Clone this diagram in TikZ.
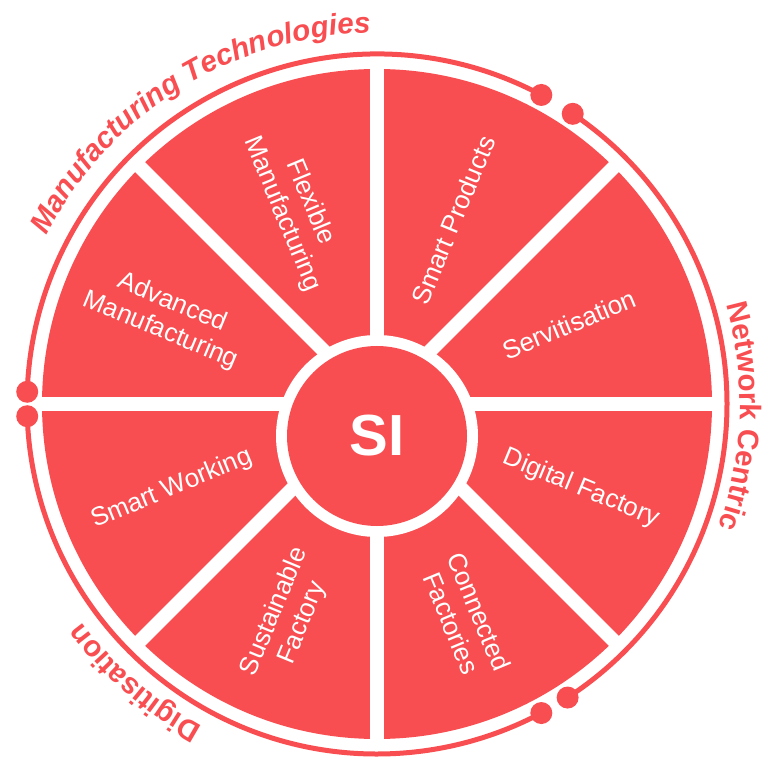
\documentclass[tikz,border=0pt]{standalone}
\usepackage{fontspec}
\setmainfont{Liberation Sans}
\usepackage{tikz}
\usetikzlibrary{decorations.text}

\definecolor{wheelred}{RGB}{249,78,81}
\newcommand{\arcfont}{\bfseries\fontsize{29.5}{31}\selectfont}

\tikzset{
    spoke/.style={draw=white, line width=14pt},
    ringarc/.style={draw=wheelred, line width=5pt},
    ringdot/.style={fill=wheelred},
    sectorlabel/.style={text=white, font=\fontsize{26}{30}\selectfont, align=center, inner sep=0pt},
    arclabel/.style 2 args={decorate, decoration={text along path, text align=center, text color=wheelred, text={|\arcfont#1|#2}}}
}

\begin{document}
\begin{tikzpicture}[x=1pt, y=1pt]
    \useasboundingbox (0,0) rectangle (767,758);
    \coordinate (hub) at (377,354);
    \coordinate (core) at (377,322);

    % wheel with eight sectors
    \fill [wheelred] (hub) circle (335);
    \foreach \a in {0,45,...,315}
        \draw [spoke] (hub) -- ++(\a:340);
    \fill [white] (core) circle (101);
    \node [circle, fill=wheelred, minimum size=180pt, inner sep=0pt, text=white, font=\bfseries\fontsize{58}{60}\selectfont] (si) at (core) {SI};

    \foreach \a/\r/\rot/\n/\t in {
        22.5/208/22.5/serv/Servitisation,
        67.5/199/67.5/prod/Smart Products,
        112.5/212/-67.5/flex/Flexible\\Manufacturing,
        157.5/228/-22.5/adv/Advanced\\Manufacturing,
        202.5/222/22.5/work/Smart Working,
        247.5/231/67.5/sust/Sustainable\\Factory,
        292.5/231/-67.5/conn/Connected\\Factories,
        337.5/221/-22.5/dig/Digital Factory}
        \node [sectorlabel, rotate=\rot] (lbl-\n) at ([shift={(\a:\r)}]hub) {\t};

    % outer ring segments, dot at both ends
    \foreach \s/\e in {62/178, -57/56, 182/298} {
        \draw [ringarc] ([shift={(\s:350)}]hub) arc [start angle=\s, end angle=\e, radius=350];
        \fill [ringdot] ([shift={(\s:350)}]hub) circle (11);
        \fill [ringdot] ([shift={(\e:350)}]hub) circle (11);
    }

    \path [arclabel={\itshape}{Manufacturing Technologies}] ([shift={(162:371)}]hub) arc [start angle=162, end angle=82, radius=371];
    \path [arclabel={}{Network Centric}] ([shift={(38:363)}]hub) arc [start angle=38, end angle=-42, radius=363];
    \path [arclabel={}{Digitisation}] ([shift={(269:367)}]hub) arc [start angle=269, end angle=189, radius=367];

\end{tikzpicture}
\end{document}
